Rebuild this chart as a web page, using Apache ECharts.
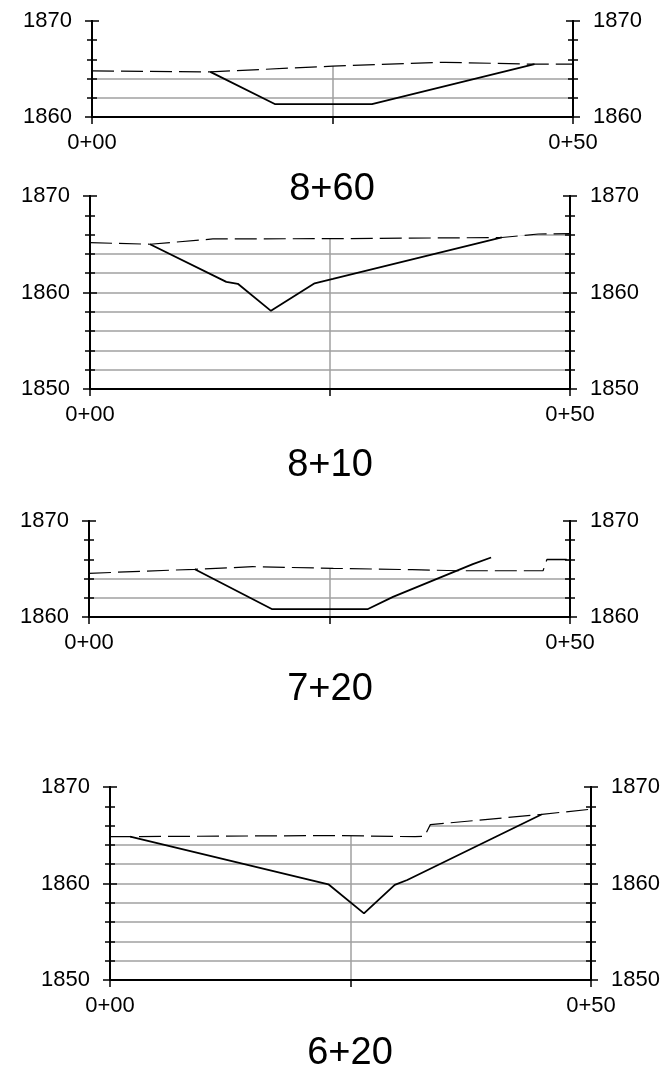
<!DOCTYPE html>
<html>
<head>
<meta charset="utf-8">
<script src="https://cdn.jsdelivr.net/npm/echarts@6/dist/echarts.min.js"></script>
<style>
html,body{margin:0;padding:0;background:#fff;}
#c{width:670px;height:1077px;}
</style>
</head>
<body>
<div id="c"></div>
<script>
// ---- data ----
const stations = ['8+60', '8+10', '7+20', '6+20'];
const yMins = [1860, 1850, 1860, 1850];
const yMax = 1870;
const xMin = 0, xMax = 50;
const xTickLabels = { 0: '0+00', 50: '0+50' };

// solid lines (channel bottom)
const ground1 = [[12.3, 1864.7], [19.0, 1861.35], [29.1, 1861.35], [46.0, 1865.5]];
const ground2 = [[6.25, 1865.0], [14.2, 1861.1], [15.4, 1860.9], [18.85, 1858.1], [23.4, 1860.95], [25.3, 1861.4], [42.9, 1865.7]];
const ground3 = [[11.0, 1864.97], [19.0, 1860.83], [29.0, 1860.83], [31.6, 1862.1], [39.9, 1865.5], [41.8, 1866.2]];
const ground4 = [[2.1, 1864.85], [22.7, 1859.92], [26.4, 1856.9], [29.6, 1859.85], [30.9, 1860.36], [44.9, 1867.17]];

// dashed lines (surface)
const water1 = [[0, 1864.8], [12.3, 1864.7], [25, 1865.3], [36.7, 1865.7], [46.0, 1865.5], [50, 1865.5]];
const water2 = [[0, 1865.16], [6.25, 1865.0], [12.8, 1865.55], [25.3, 1865.58], [42.9, 1865.7], [46.7, 1866.06], [50, 1866.1]];
const water3 = [[0, 1864.55], [11.0, 1864.97], [17.0, 1865.24], [25.4, 1865.07], [33.6, 1864.93], [38.4, 1864.82], [47.2, 1864.82], [47.6, 1866.0], [50, 1866.0]];
const water4 = [[0, 1864.85], [23.3, 1864.97], [31.7, 1864.85], [32.7, 1864.9], [33.3, 1866.1], [44.9, 1867.17], [50, 1867.7]];

const grounds = [ground1, ground2, ground3, ground4];
const waters = [water1, water2, water3, water4];

// ---- layout ----
const grids = [
  { left: 92, top: 21, width: 481, height: 96 },
  { left: 90, top: 196, width: 480, height: 193 },
  { left: 89, top: 521, width: 481, height: 96 },
  { left: 110, top: 787, width: 481, height: 193 }
];
const titlePos = [[332, 190], [330, 466], [330, 690], [350, 1054]];

const FONT = '"Liberation Sans", Arial, sans-serif';
const BLACK = '#000';
const GRAY = '#a0a0a0';

const xAxes = [], yAxes = [], series = [], graphics = [];

grids.forEach((g, i) => {
  // visible x axis
  xAxes.push({
    type: 'value', gridIndex: i, min: xMin, max: xMax, interval: 25, z: 10,
    axisLine: { show: true, onZero: false, lineStyle: { color: BLACK, width: 2 } },
    axisTick: { show: true, length: 7, lineStyle: { color: BLACK, width: 1.5 } },
    axisLabel: {
      show: true, margin: 15, fontSize: 22, color: BLACK, fontFamily: FONT,
      showMinLabel: true, showMaxLabel: true,
      formatter: v => (xTickLabels[v] !== undefined ? xTickLabels[v] : '')
    },
    splitLine: { show: false }
  });
  // x gridline axis (vertical center line)
  xAxes.push({
    type: 'value', gridIndex: i, min: xMin, max: xMax, interval: 25, z: 0,
    axisLine: { show: false, onZero: false }, axisTick: { show: false }, axisLabel: { show: false },
    splitLine: { show: true, showMinLine: false, showMaxLine: false, lineStyle: { color: GRAY, width: 1.5 } }
  });

  const base = {
    type: 'value', gridIndex: i, min: yMins[i], max: yMax, interval: 10, z: 10,
    axisLine: { show: true, onZero: false, lineStyle: { color: BLACK, width: 2 } },
    minorTick: { show: true, splitNumber: 5, length: 5, lineStyle: { color: BLACK, width: 1.5 } },
    splitLine: { show: false }
  };
  ['left', 'right'].forEach(pos => {
    yAxes.push(Object.assign({}, base, {
      position: pos,
      axisTick: { show: true, inside: false, length: 7, lineStyle: { color: BLACK, width: 1.5 } },
      axisLabel: { show: true, margin: 20, fontSize: 22, color: BLACK, fontFamily: FONT, formatter: v => String(v) }
    }));
    yAxes.push(Object.assign({}, base, {
      position: pos,
      axisTick: { show: true, inside: true, length: 7, lineStyle: { color: BLACK, width: 1.5 } },
      axisLabel: { show: false }
    }));
  });
  // y gridline axis
  yAxes.push({
    type: 'value', gridIndex: i, min: yMins[i], max: yMax, interval: 2, z: 0, position: 'left',
    axisLine: { show: false, onZero: false }, axisTick: { show: false }, axisLabel: { show: false },
    splitLine: { show: true, showMinLine: false, showMaxLine: false, lineStyle: { color: GRAY, width: 1.5 } }
  });

  const xi = 2 * i, yi = 5 * i;
  // white cover above the surface line (hides grid lines above it)
  series.push({
    type: 'line', xAxisIndex: xi, yAxisIndex: yi, data: waters[i], symbol: 'none', silent: true,
    lineStyle: { width: 0 }, areaStyle: { color: '#fff', opacity: 1, origin: 'end' }, z: 3
  });
  series.push({
    type: 'line', xAxisIndex: xi, yAxisIndex: yi, data: grounds[i], symbol: 'none',
    lineStyle: { color: BLACK, width: 1.8 }, z: 5
  });
  series.push({
    type: 'line', xAxisIndex: xi, yAxisIndex: yi, data: waters[i], symbol: 'none',
    lineStyle: { color: BLACK, width: 1.2, type: [22, 7] }, z: 6
  });

  graphics.push({
    type: 'text', x: titlePos[i][0], y: titlePos[i][1], z: 100,
    style: { text: stations[i], fontSize: 38, fontFamily: FONT, fill: BLACK, align: 'center', verticalAlign: 'middle' }
  });
});

const chart = echarts.init(document.getElementById('c'), null, { renderer: 'canvas' });
chart.setOption({
  animation: false,
  backgroundColor: '#fff',
  grid: grids.map(g => Object.assign({ containLabel: false }, g)),
  xAxis: xAxes,
  yAxis: yAxes,
  series: series,
  graphic: graphics
});
</script>
</body>
</html>
